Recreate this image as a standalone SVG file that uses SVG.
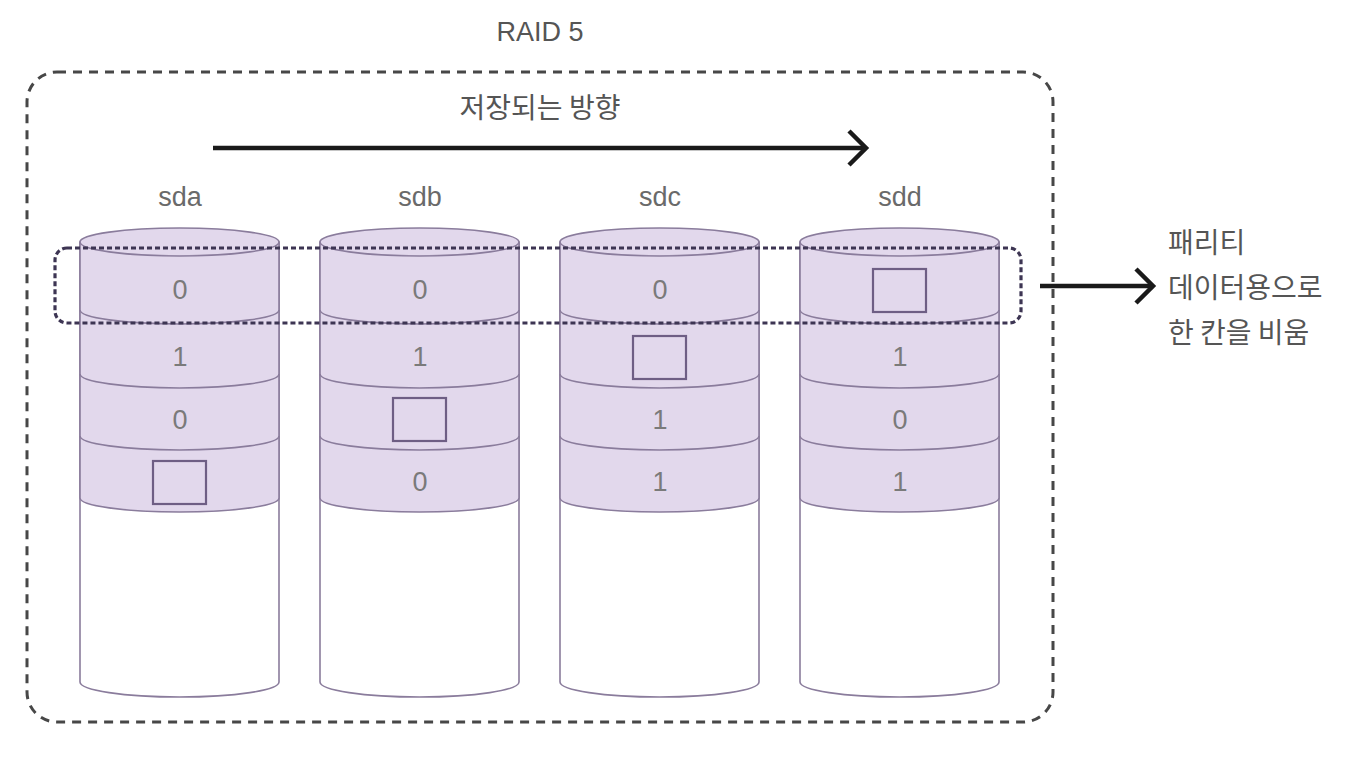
<svg xmlns="http://www.w3.org/2000/svg" width="1360" height="780" viewBox="0 0 1360 780">
<defs>
<style>
.t{font-family:"Liberation Sans","Noto Sans CJK KR",sans-serif;fill:#555;}
.kr{font-family:"Noto Sans CJK KR","Liberation Sans",sans-serif;fill:#555;font-size:28px;}
.dig{font-family:"Liberation Sans",sans-serif;fill:#7a7a7a;font-size:27px;text-anchor:middle;}
.lbl{font-family:"Liberation Sans",sans-serif;fill:#6a6a6a;font-size:27px;text-anchor:middle;}
.body{fill:#ffffff;stroke:#8a7c9c;stroke-width:1.6;}
.seg{fill:#e2d8ec;stroke:#8a7c9c;stroke-width:1.6;}
.arc{fill:none;stroke:#8a7c9c;stroke-width:1.6;}
.box{fill:none;stroke:#6e5e84;stroke-width:2.2;}
.ar{fill:none;stroke:#1a1a1a;stroke-width:4.5;}
</style>
<g id="cyl">
<path class="body" d="M0 242 V682 A99.5 15 0 0 0 199 682 V242"/>
<path class="seg" d="M0 242 V498 A99.5 14 0 0 0 199 498 V242 Z"/>
<ellipse class="seg" cx="99.5" cy="242" rx="99.5" ry="14"/>
<path class="arc" d="M0 310 A99.5 14 0 0 0 199 310 M0 374 A99.5 14 0 0 0 199 374 M0 436 A99.5 14 0 0 0 199 436"/>
</g>
</defs>
<rect width="1360" height="780" fill="#ffffff"/>
<text class="t" x="540" y="41" font-size="27" text-anchor="middle">RAID 5</text>
<rect id="raid-box" x="27" y="72" width="1026" height="650" rx="30" fill="none" stroke="#474747" stroke-width="3" stroke-dasharray="9 7"/>
<text class="kr" x="540" y="118" text-anchor="middle">저장되는 방향</text>

<g id="sda">
<use href="#cyl" x="80"/>
<text class="lbl" x="180" y="206">sda</text>
<text class="dig" x="180" y="299">0</text>
<text class="dig" x="180" y="366">1</text>
<text class="dig" x="180" y="429">0</text>
<rect class="box" x="153" y="461" width="53" height="43"/>
</g>
<g id="sdb">
<use href="#cyl" x="320"/>
<text class="lbl" x="420" y="206">sdb</text>
<text class="dig" x="420" y="299">0</text>
<text class="dig" x="420" y="366">1</text>
<rect class="box" x="393" y="398" width="53" height="43"/>
<text class="dig" x="420" y="491">0</text>
</g>
<g id="sdc">
<use href="#cyl" x="560"/>
<text class="lbl" x="660" y="206">sdc</text>
<text class="dig" x="660" y="299">0</text>
<rect class="box" x="633" y="336" width="53" height="43"/>
<text class="dig" x="660" y="429">1</text>
<text class="dig" x="660" y="491">1</text>
</g>
<g id="sdd">
<use href="#cyl" x="800"/>
<text class="lbl" x="900" y="206">sdd</text>
<rect class="box" x="873" y="269" width="53" height="43"/>
<text class="dig" x="900" y="366">1</text>
<text class="dig" x="900" y="429">0</text>
<text class="dig" x="900" y="491">1</text>
</g>

<rect id="parity-row" x="55" y="248" width="966" height="75" rx="12" fill="none" stroke="#3d3553" stroke-width="3.2" stroke-dasharray="5 3"/>

<g id="parity-note">
<text class="kr" x="1168" y="253">패리티</text>
<text class="kr" x="1168" y="298">데이터용으로</text>
<text class="kr" x="1168" y="343">한 칸을 비움</text>
</g>

<g id="connectors">
<path class="ar" d="M213 148 H864"/>
<path class="ar" d="M849 131 L866 148 L849 165"/>
<path class="ar" d="M1040 286 H1150"/>
<path class="ar" d="M1136 269 L1153 286 L1136 303"/>
</g>
</svg>
